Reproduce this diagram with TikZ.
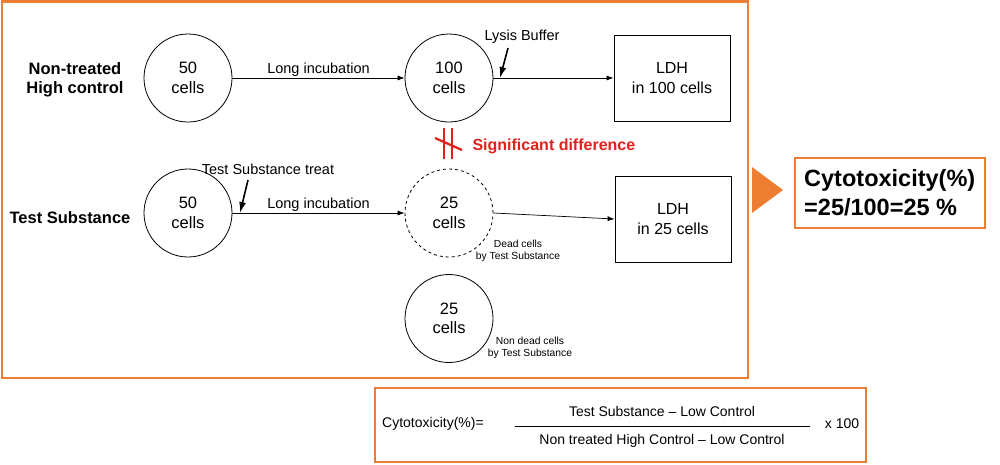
\documentclass[tikz,border=0pt]{standalone}
\usepackage{fontspec}
\setmainfont{Liberation Sans}
\usetikzlibrary{arrows.meta}
\definecolor{org}{HTML}{ED7D31}
\definecolor{sigred}{HTML}{E3211C}
\tikzset{
  cell/.style={circle,draw,line width=0.8pt,minimum size=88pt,inner sep=0pt,align=center,font=\fontsize{16.5}{19.5}\selectfont},
  ldh/.style={draw,line width=0.8pt,minimum width=116pt,minimum height=86pt,align=center,font=\fontsize{16}{20}\selectfont},
  flow/.style={-{Latex[length=7pt,width=5pt]},line width=0.7pt},
  pointer/.style={-{Latex[length=11pt,width=7pt]},line width=1.6pt},
  lbl/.style={font=\fontsize{14.5}{17}\selectfont,inner sep=1pt},
  fml/.style={font=\fontsize{14}{17}\selectfont,inner sep=1pt},
  small/.style={font=\fontsize{10.3}{12}\selectfont,align=center,inner sep=0pt},
  rowlbl/.style={font=\bfseries\fontsize{16.5}{19.5}\selectfont,align=center},
}
\begin{document}
\begin{tikzpicture}[x=1pt,y=-1pt]
\useasboundingbox (0,0) rectangle (1000,464);
% main frame
\draw[org,line width=2.5pt] (2,1.5) rectangle (748,378);
% row labels
\node[rowlbl] (r1) at (75,80) {Non-treated\\High control};
\node[rowlbl] (r2) at (70,218) {Test Substance};
% row 1
\node[cell] (c1) at (188,78) {50\\cells};
\node[cell] (c2) at (449,78) {100\\cells};
\node[ldh] (b1) at (672,78) {LDH\\in 100 cells};
\draw[flow] (c1) -- node[lbl,above] {Long incubation} (c2);
\draw[flow] (c2.east) -- (b1.west|-c2.east);
\coordinate (lb) at (500,78);
\node[lbl] (lysis) at (522,37) {Lysis Buffer};
\draw[pointer] (508,48) -- (lb);
% significant
\draw[sigred,line width=2.2pt] (444,128) -- (444,159) (452,128) -- (452,159);
\draw[sigred,line width=2.2pt] (435,138) -- (462,150);
\node[sigred,font=\bfseries\fontsize{16}{19}\selectfont,anchor=west] (sig) at (469,146) {Significant difference};
% row 2
\node[cell] (c3) at (188,213) {50\\cells};
\node[cell,dashed] (c4) at (449,213) {25\\cells};
\node[ldh] (b2) at (673,219) {LDH\\in 25 cells};
\draw[flow] (c3.east) -- node[lbl,above] {Long incubation} (c4.west);
\draw[flow] (c4.east) -- (b2.west);
\node[lbl] (tst) at (268,169) {Test Substance treat};
\draw[pointer] (248,180) -- (240,213);
\node[small] (dead) at (518,251) {Dead cells\\by Test Substance};
\node[cell] (c5) at (449,318.5) {25\\cells};
\node[small] (ndead) at (530,347.5) {Non dead cells\\by Test Substance};
% result
\fill[org] (752,167) -- (783,190) -- (752,213) -- cycle;
\draw[org,line width=2pt] (795,158) rectangle (985,228);
\node[font=\bfseries\fontsize{23.5}{29}\selectfont,align=left,anchor=west,inner sep=0pt] (res) at (804,193) {Cytotoxicity(\%)\\=25/100=25 \%};
% formula
\draw[org,line width=1.2pt] (375,388) rectangle (866,462);
\node[fml,anchor=west] (cy) at (381,424) {Cytotoxicity(\%)=};
\draw[line width=0.8pt] (515,426) -- (810,426);
\node[fml] (num) at (662,411) {Test Substance – Low Control};
\node[fml] (den) at (662,441) {Non treated High Control – Low Control};
\node[fml] (x100) at (842,424) {x 100};
\end{tikzpicture}
\end{document}
